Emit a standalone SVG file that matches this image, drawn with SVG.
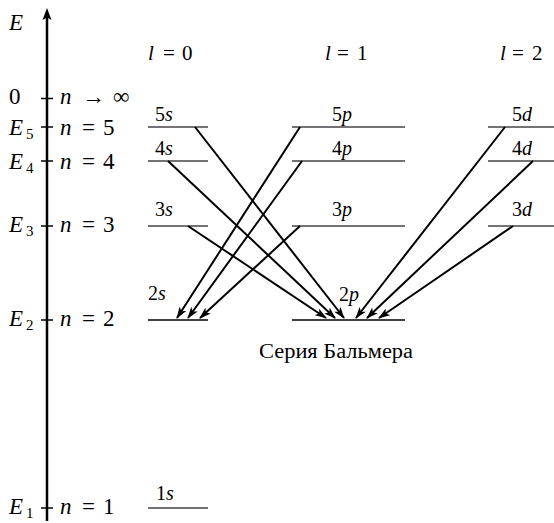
<svg xmlns="http://www.w3.org/2000/svg" width="554" height="523" viewBox="0 0 554 523" font-family="Liberation Serif">
<rect width="554" height="523" fill="#fff"/>
<defs>
<marker id="ah" viewBox="0 0 12 8" refX="11" refY="4" markerWidth="12" markerHeight="8" markerUnits="userSpaceOnUse" orient="auto">
<path d="M0,0 L12,4 L0,8 L3,4 Z" fill="#000"/>
</marker>
</defs>
<g id="axis">
<line x1="47" y1="521" x2="47" y2="17" stroke="#000" stroke-width="2.5"/>
<polygon points="47,8 42.5,20 47,17.5 51.5,20" fill="#000"/>
<text font-family="Liberation Serif" font-size="23" font-style="italic" x="9" y="30">E</text>
<g stroke="#000" stroke-width="1.5">
<line x1="41" y1="98.5" x2="53" y2="98.5"/>
<line x1="41" y1="127" x2="53" y2="127"/>
<line x1="41" y1="161" x2="53" y2="161"/>
<line x1="41" y1="226" x2="53" y2="226"/>
<line x1="41" y1="320" x2="53" y2="320"/>
<line x1="41" y1="508" x2="53" y2="508"/>
</g>
<text font-family="Liberation Serif" font-size="23" x="9" y="104">0</text>
<text font-family="Liberation Serif" font-size="23" y="104"><tspan font-style="italic" x="60">n</tspan><tspan x="82">→</tspan><tspan x="113">∞</tspan></text>
<text font-family="Liberation Serif" font-size="23" y="135"><tspan font-style="italic" x="9">E</tspan><tspan font-size="15" x="26" dy="4">5</tspan></text>
<text font-family="Liberation Serif" font-size="23" y="135"><tspan font-style="italic" x="60">n</tspan><tspan x="82">=</tspan><tspan x="103">5</tspan></text>
<text font-family="Liberation Serif" font-size="23" y="169"><tspan font-style="italic" x="9">E</tspan><tspan font-size="15" x="26" dy="4">4</tspan></text>
<text font-family="Liberation Serif" font-size="23" y="169"><tspan font-style="italic" x="60">n</tspan><tspan x="82">=</tspan><tspan x="103">4</tspan></text>
<text font-family="Liberation Serif" font-size="23" y="232"><tspan font-style="italic" x="9">E</tspan><tspan font-size="15" x="26" dy="4">3</tspan></text>
<text font-family="Liberation Serif" font-size="23" y="232"><tspan font-style="italic" x="60">n</tspan><tspan x="82">=</tspan><tspan x="103">3</tspan></text>
<text font-family="Liberation Serif" font-size="23" y="326"><tspan font-style="italic" x="9">E</tspan><tspan font-size="15" x="26" dy="4">2</tspan></text>
<text font-family="Liberation Serif" font-size="23" y="326"><tspan font-style="italic" x="60">n</tspan><tspan x="82">=</tspan><tspan x="103">2</tspan></text>
<text font-family="Liberation Serif" font-size="23" y="514"><tspan font-style="italic" x="9">E</tspan><tspan font-size="15" x="26" dy="4">1</tspan></text>
<text font-family="Liberation Serif" font-size="23" y="514"><tspan font-style="italic" x="60">n</tspan><tspan x="82">=</tspan><tspan x="103">1</tspan></text>
</g>
<g id="headers">
<text font-family="Liberation Serif" font-size="21" y="60"><tspan font-style="italic" x="148">l</tspan><tspan x="163">=</tspan><tspan x="182">0</tspan></text>
<text font-family="Liberation Serif" font-size="21" y="60"><tspan font-style="italic" x="325">l</tspan><tspan x="337">=</tspan><tspan x="357">1</tspan></text>
<text font-family="Liberation Serif" font-size="21" y="60"><tspan font-style="italic" x="500">l</tspan><tspan x="512">=</tspan><tspan x="532">2</tspan></text>
</g>
<g id="level-5s"><line stroke="#444" stroke-width="1.3" x1="148" y1="127" x2="208" y2="127"/><text font-family="Liberation Serif" font-size="20" x="155" y="121">5<tspan font-style="italic">s</tspan></text></g>
<g id="level-4s"><line stroke="#444" stroke-width="1.3" x1="148" y1="161" x2="208" y2="161"/><text font-family="Liberation Serif" font-size="20" x="155" y="155">4<tspan font-style="italic">s</tspan></text></g>
<g id="level-3s"><line stroke="#444" stroke-width="1.3" x1="148" y1="226" x2="208" y2="226"/><text font-family="Liberation Serif" font-size="20" x="155" y="216">3<tspan font-style="italic">s</tspan></text></g>
<g id="level-2s"><line stroke="#000" stroke-width="1.5" x1="148" y1="320" x2="208" y2="320"/><text font-family="Liberation Serif" font-size="20" x="148" y="300">2<tspan font-style="italic">s</tspan></text></g>
<g id="level-1s"><line stroke="#444" stroke-width="1.3" x1="148" y1="508" x2="208" y2="508"/><text font-family="Liberation Serif" font-size="20" x="156" y="500">1<tspan font-style="italic">s</tspan></text></g>
<g id="level-5p"><line stroke="#444" stroke-width="1.3" x1="292" y1="127" x2="405" y2="127"/><text font-family="Liberation Serif" font-size="20" x="332" y="121">5<tspan font-style="italic">p</tspan></text></g>
<g id="level-4p"><line stroke="#444" stroke-width="1.3" x1="292" y1="161" x2="405" y2="161"/><text font-family="Liberation Serif" font-size="20" x="332" y="155">4<tspan font-style="italic">p</tspan></text></g>
<g id="level-3p"><line stroke="#444" stroke-width="1.3" x1="292" y1="226" x2="405" y2="226"/><text font-family="Liberation Serif" font-size="20" x="332" y="216">3<tspan font-style="italic">p</tspan></text></g>
<g id="level-2p"><line stroke="#000" stroke-width="1.5" x1="292" y1="320" x2="405" y2="320"/><text font-family="Liberation Serif" font-size="20" x="339" y="301">2<tspan font-style="italic">p</tspan></text></g>
<g id="level-5d"><line stroke="#444" stroke-width="1.3" x1="488" y1="127" x2="554" y2="127"/><text font-family="Liberation Serif" font-size="20" x="512" y="121">5<tspan font-style="italic">d</tspan></text></g>
<g id="level-4d"><line stroke="#444" stroke-width="1.3" x1="488" y1="161" x2="554" y2="161"/><text font-family="Liberation Serif" font-size="20" x="512" y="155">4<tspan font-style="italic">d</tspan></text></g>
<g id="level-3d"><line stroke="#444" stroke-width="1.3" x1="488" y1="226" x2="554" y2="226"/><text font-family="Liberation Serif" font-size="20" x="512" y="216">3<tspan font-style="italic">d</tspan></text></g>
<g id="connectors" stroke="#000" stroke-width="2" fill="none" marker-end="url(#ah)">
<line x1="195" y1="127" x2="344" y2="318"/>
<line x1="168" y1="161" x2="335" y2="318"/>
<line x1="188" y1="226" x2="326" y2="318"/>
<line x1="300" y1="127" x2="177" y2="318"/>
<line x1="302" y1="161" x2="188" y2="318"/>
<line x1="300" y1="226" x2="200" y2="318"/>
<line x1="505" y1="127" x2="356" y2="318"/>
<line x1="533" y1="161" x2="367" y2="318"/>
<line x1="513" y1="226" x2="379" y2="318"/>
</g>
<g id="caption"><text font-family="Liberation Serif" x="259" y="358" font-size="20" textLength="154" lengthAdjust="spacingAndGlyphs">Серия Бальмера</text></g>
</svg>
